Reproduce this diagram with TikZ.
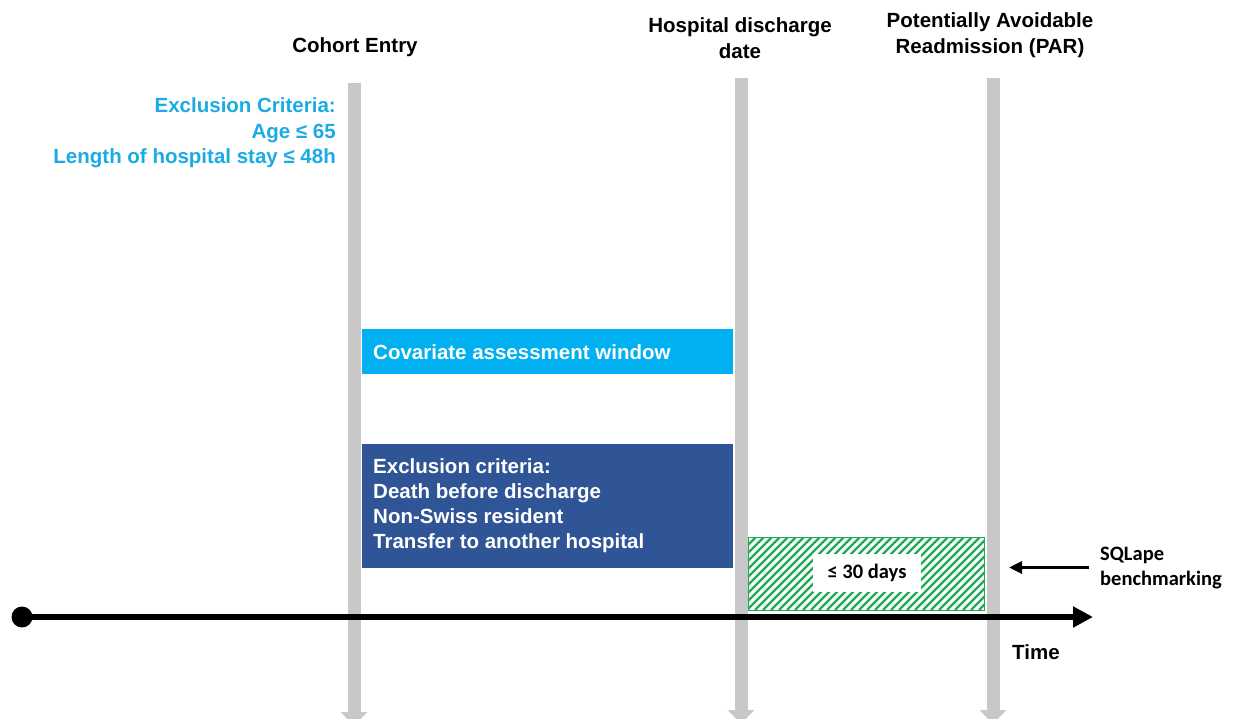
\documentclass[tikz,border=0pt]{standalone}
\usepackage{fontspec}
\setmainfont{Liberation Sans}
\newfontfamily\calib{Carlito}
\usetikzlibrary{arrows.meta}
\definecolor{bargrey}{HTML}{C8C8C8}
\definecolor{cyantext}{HTML}{1AABE3}
\definecolor{covblue}{HTML}{00B0F0}
\definecolor{darkblue}{HTML}{2F5597}
\definecolor{hatchgreen}{HTML}{1FAA55}
\tikzset{
  bar/.style={draw=bargrey, line width=13pt, -{Triangle[width=26pt,length=14pt]}},
  head/.style={font=\bfseries\fontsize{20.5}{25.5}\selectfont, align=center, inner sep=0pt},
  boxtext/.style={font=\bfseries\fontsize{20.5}{25}\selectfont, text=white, align=left, inner sep=0pt, anchor=west},
  calibtext/.style={font=\calib\bfseries\fontsize{20.5}{25.5}\selectfont, inner sep=0pt},
}
\begin{document}
\begin{tikzpicture}[x=1pt,y=-1pt]
\useasboundingbox (0,0) rectangle (1239,719);
% vertical time markers
\coordinate (b1t) at (354,83);   \coordinate (b1b) at (354,726);
\coordinate (b2t) at (741,78);   \coordinate (b2b) at (741,724);
\coordinate (b3t) at (993,78);   \coordinate (b3b) at (993,724);
\draw[bar] (b1t) -- (b1b);
\draw[bar] (b2t) -- (b2b);
\draw[bar] (b3t) -- (b3b);
% headings
\node[head] (cohort) at (355,47) {Cohort Entry};
\node[head] (disch) at (740,38) {Hospital discharge\\date};
\node[head] (par) at (990,35) {Potentially Avoidable\\Readmission (PAR)};
\node[head, text=cyantext, align=right, anchor=east] (excl1) at (336,133) {Exclusion Criteria:\\Age ≤ 65\\Length of hospital stay ≤ 48h};
% covariate window
\fill[covblue] (362,329) rectangle (733,374);
\node[boxtext] (cov) at (373,352) {Covariate assessment window};
% exclusion box
\fill[darkblue] (362,444) rectangle (733,568);
\node[boxtext] (excl2) at (373,505.5) {Exclusion criteria:\\Death before discharge\\Non-Swiss resident\\Transfer to another hospital};
% hatched 30 day window
\begin{scope}
\clip (748.5,537.5) rectangle (984,610);
\foreach \i in {0,8,...,320} {
  \draw[hatchgreen, line width=2.4pt] ({675+\i},610) -- ++(74,-74);
}
\end{scope}
\draw[hatchgreen, line width=1pt] (748.5,537.5) rectangle (984,610);
\fill[white] (813,553.5) rectangle (921,591.5);
\node[calibtext] (days) at (867,572.5) {≤ 30 days};
% time axis
\node[circle, fill=black, minimum size=21pt, inner sep=0pt] (start) at (22,617) {};
\coordinate (tend) at (1093,617);
\draw[line width=6pt, -{Triangle[width=20pt,length=20pt]}] (start.center) -- (tend);
\node[head, anchor=west] (time) at (1012,652) {Time};
% SQLape
\node[calibtext, align=left, anchor=west] (sql) at (1100,568) {SQLape\\benchmarking};
\coordinate (sqlarrow) at (1009,567.5);
\draw[line width=3.2pt, -{Triangle[width=12pt,length=13pt]}] (1089,567.5) -- (sqlarrow);
\end{tikzpicture}
\end{document}
